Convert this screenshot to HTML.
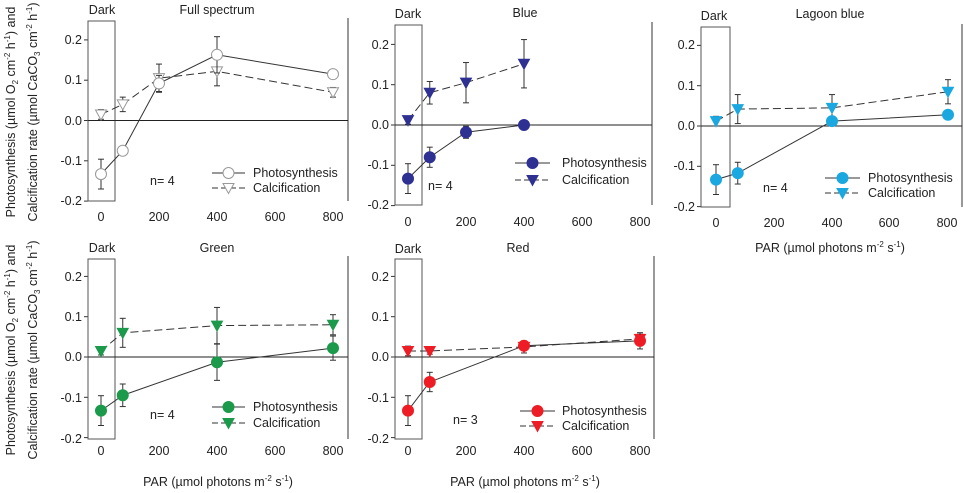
<!DOCTYPE html>
<html><head><meta charset="utf-8"><style>
html,body{margin:0;padding:0;background:#fff;}
svg{display:block;font-family:"Liberation Sans",Arial,sans-serif;}
</style></head><body>
<svg id="s" width="964" height="493" viewBox="0 0 964 493" xmlns="http://www.w3.org/2000/svg">
<g font-size="12.5" fill="#222">
<text transform="translate(15,112) rotate(-90)" text-anchor="middle">Photosynthesis (µmol O<tspan font-size="8" dy="3">2</tspan><tspan dy="-3"> cm</tspan><tspan font-size="8" dy="-5">-2</tspan><tspan dy="5"> h</tspan><tspan font-size="8" dy="-5">-1</tspan><tspan dy="5">) and</tspan></text>
<text transform="translate(37,112) rotate(-90)" text-anchor="middle">Calcification rate (µmol CaCO<tspan font-size="8" dy="3">3</tspan><tspan dy="-3"> cm</tspan><tspan font-size="8" dy="-5">-2</tspan><tspan dy="5"> h</tspan><tspan font-size="8" dy="-5">-1</tspan><tspan dy="5">)</tspan></text>
<text transform="translate(15,350) rotate(-90)" text-anchor="middle">Photosynthesis (µmol O<tspan font-size="8" dy="3">2</tspan><tspan dy="-3"> cm</tspan><tspan font-size="8" dy="-5">-2</tspan><tspan dy="5"> h</tspan><tspan font-size="8" dy="-5">-1</tspan><tspan dy="5">) and</tspan></text>
<text transform="translate(37,350) rotate(-90)" text-anchor="middle">Calcification rate (µmol CaCO<tspan font-size="8" dy="3">3</tspan><tspan dy="-3"> cm</tspan><tspan font-size="8" dy="-5">-2</tspan><tspan dy="5"> h</tspan><tspan font-size="8" dy="-5">-1</tspan><tspan dy="5">)</tspan></text>
<text x="218" y="486" text-anchor="middle">PAR (µmol photons m<tspan font-size="8" dy="-5">-2</tspan><tspan dy="5"> s</tspan><tspan font-size="8" dy="-5">-1</tspan><tspan dy="5">)</tspan></text>
<text x="525" y="486" text-anchor="middle">PAR (µmol photons m<tspan font-size="8" dy="-5">-2</tspan><tspan dy="5"> s</tspan><tspan font-size="8" dy="-5">-1</tspan><tspan dy="5">)</tspan></text>
<text x="830" y="252" text-anchor="middle">PAR (µmol photons m<tspan font-size="8" dy="-5">-2</tspan><tspan dy="5"> s</tspan><tspan font-size="8" dy="-5">-1</tspan><tspan dy="5">)</tspan></text>
<text x="217" y="14" text-anchor="middle">Full spectrum</text>
<text x="525" y="17" text-anchor="middle">Blue</text>
<text x="830" y="18" text-anchor="middle">Lagoon blue</text>
<text x="217" y="252" text-anchor="middle">Green</text>
<text x="518" y="252" text-anchor="middle">Red</text>
<text x="102" y="14" text-anchor="middle">Dark</text>
<text x="408" y="18" text-anchor="middle">Dark</text>
<text x="714" y="20" text-anchor="middle">Dark</text>
<text x="102" y="252" text-anchor="middle">Dark</text>
<text x="408" y="253" text-anchor="middle">Dark</text>
<text x="150" y="185">n= 4</text>
<text x="428" y="190">n= 4</text>
<text x="763" y="192">n= 4</text>
<text x="150" y="419">n= 4</text>
<text x="453" y="424">n= 3</text>
<text x="253" y="177">Photosynthesis</text><text x="253" y="192">Calcification</text>
<text x="562" y="167">Photosynthesis</text><text x="562" y="184">Calcification</text>
<text x="868" y="182">Photosynthesis</text><text x="868" y="197">Calcification</text>
<text x="253" y="411">Photosynthesis</text><text x="253" y="427">Calcification</text>
<text x="562" y="415">Photosynthesis</text><text x="562" y="430">Calcification</text>
<g text-anchor="end">
<text x="82" y="44">0.2</text><text x="82" y="84">0.1</text><text x="82" y="125">0.0</text><text x="82" y="165">-0.1</text><text x="82" y="205">-0.2</text>
<text x="389" y="49">0.2</text><text x="389" y="89">0.1</text><text x="389" y="129">0.0</text><text x="389" y="169">-0.1</text><text x="389" y="209">-0.2</text>
<text x="695" y="49">0.2</text><text x="695" y="90">0.1</text><text x="695" y="130">0.0</text><text x="695" y="170">-0.1</text><text x="695" y="211">-0.2</text>
<text x="82" y="281">0.2</text><text x="82" y="321">0.1</text><text x="82" y="361">0.0</text><text x="82" y="402">-0.1</text><text x="82" y="443">-0.2</text>
<text x="389" y="281">0.2</text><text x="389" y="321">0.1</text><text x="389" y="361">0.0</text><text x="389" y="402">-0.1</text><text x="389" y="443">-0.2</text>
</g>
<g text-anchor="middle">
<text x="101" y="221">0</text><text x="159" y="221">200</text><text x="217" y="221">400</text><text x="275" y="221">600</text><text x="333" y="221">800</text>
<text x="408" y="226">0</text><text x="466" y="226">200</text><text x="524" y="226">400</text><text x="582" y="226">600</text><text x="640" y="226">800</text>
<text x="716" y="227">0</text><text x="774" y="227">200</text><text x="832" y="227">400</text><text x="889" y="227">600</text><text x="947" y="227">800</text>
<text x="101" y="455">0</text><text x="159" y="455">200</text><text x="217" y="455">400</text><text x="275" y="455">600</text><text x="333" y="455">800</text>
<text x="408" y="455">0</text><text x="466" y="455">200</text><text x="524" y="455">400</text><text x="582" y="455">600</text><text x="640" y="455">800</text>
</g>
</g>
<g id="g"></g>
</svg>
<script>
var P=[
 {ox:101,oy:120.5,L:88,R:348,T:21,B:201,c:"#fff",st:"#888",open:true,lg:[212,245,173,188],
  p:[[0,-.133,.037],[75,-.075,.005],[200,.092,.02],[400,.163,.045],[800,.115,.01]],
  k:[[0,.015,.012],[75,.04,.018],[200,.105,.035],[400,.122,.036],[800,.07,.012]]},
 {ox:408,oy:125,L:395,R:652,T:25,B:205,c:"#2e3192",st:"#2e3192",lg:[515,550,163,180],
  p:[[0,-.133,.037],[75,-.08,.025],[200,-.018,.015],[400,0,0]],
  k:[[0,.012,.01],[75,.08,.028],[200,.105,.05],[400,.152,.06]]},
 {ox:716,oy:126,L:701,R:962,T:27,B:207,c:"#1ba8e0",st:"#1ba8e0",lg:[825,860,178,193],
  p:[[0,-.133,.037],[75,-.117,.027],[400,.012,.01],[800,.028,0]],
  k:[[0,.012,.012],[75,.042,.036],[400,.045,.033],[800,.085,.03]]},
 {ox:101,oy:357,L:88,R:348,T:259,B:439,c:"#1a9a4a",st:"#1a9a4a",lg:[212,245,407,423],
  p:[[0,-.133,.037],[75,-.095,.028],[400,-.013,.045],[800,.022,.03]],
  k:[[0,.015,.01],[75,.06,.036],[400,.078,.045],[800,.08,.025]]},
 {ox:408,oy:357,L:395,R:654,T:259,B:439,c:"#ee1c24",st:"#ee1c24",lg:[520,555,411,426],
  p:[[0,-.133,.037],[75,-.062,.024],[400,.028,.008],[800,.04,.02]],
  k:[[0,.015,.012],[75,.015,.008],[400,.025,.015],[800,.045,.015]]}
];
var h="";
function L(a,b,c,d,s,w,da){h+='<line x1="'+a+'" y1="'+b+'" x2="'+c+'" y2="'+d+'" stroke="'+(s||"#333")+'" stroke-width="'+(w||1)+'"'+(da?' stroke-dasharray="'+da+'"':'')+'/>';}
function circ(x,y,p){h+='<circle cx="'+x+'" cy="'+y+'" r="5.5" fill="'+p.c+'" stroke="'+(p.open?"#999":p.c)+'"/>';}
function tri(x,y,p){h+='<polygon points="'+(x-5.5)+','+(y-4.5)+' '+(x+5.5)+','+(y-4.5)+' '+x+','+(y+5.5)+'" fill="'+p.c+'" stroke="'+(p.open?"#999":p.c)+'"/>';}
P.forEach(function(p){
 var X=function(v){return p.ox+v*0.29},Y=function(v){return p.oy-v*403};
 L(p.L,p.T,p.L,p.B,"#333");
 L(p.R,p.T-3,p.R,p.B,"#333");
 for(var t=-2;t<=2;t++)L(p.L-4,Y(t/10),p.L,Y(t/10),"#333");
 h+='<rect x="'+p.L+'" y="'+p.T+'" width="'+(p.ox+14-p.L)+'" height="'+(p.B-p.T)+'" fill="none" stroke="#555"/>';
 L(p.L,p.oy,p.R,p.oy,"#222");
 [["k","8,4"],["p",null]].forEach(function(s){
  var d=p[s[0]],pts=d.map(function(q){return X(q[0])+","+Y(q[1])}).join(" ");
  h+='<polyline points="'+pts+'" fill="none" stroke="#333" stroke-width="1"'+(s[1]?' stroke-dasharray="'+s[1]+'"':'')+'/>';
  d.forEach(function(q){if(q[2]>0){var x=X(q[0]);L(x,Y(q[1]-q[2]),x,Y(q[1]+q[2]),"#333");L(x-3,Y(q[1]-q[2]),x+3,Y(q[1]-q[2]),"#333");L(x-3,Y(q[1]+q[2]),x+3,Y(q[1]+q[2]),"#333");}});
  d.forEach(function(q){ if(s[0]=="p")circ(X(q[0]),Y(q[1]),p);else tri(X(q[0]),Y(q[1]),p);});
 });
 var g=p.lg;
 L(g[0],g[2],g[1],g[2],"#333");circ((g[0]+g[1])/2,g[2],p);
 L(g[0],g[3],g[1],g[3],"#333",1,"6,3");tri((g[0]+g[1])/2,g[3],p);
});
document.getElementById("g").innerHTML=h;
</script>
</body></html>
